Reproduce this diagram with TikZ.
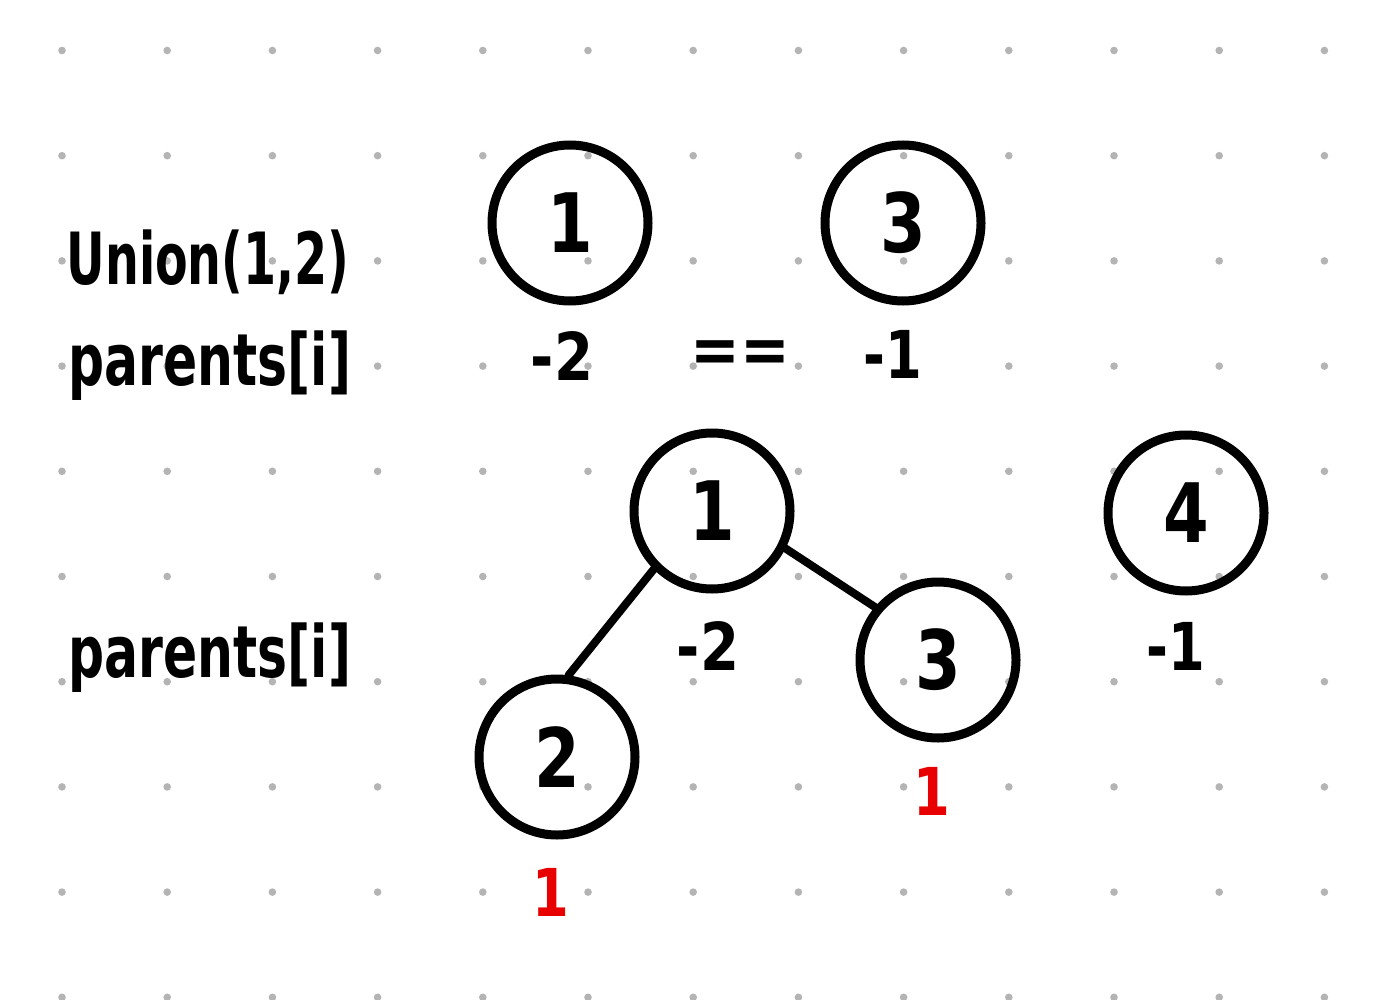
\documentclass[tikz,border=0pt]{standalone}
\usepackage{fontspec}
\newfontfamily\hwfont{DejaVu Sans}
\definecolor{dotgray}{RGB}{180,180,180}
\definecolor{hwred}{RGB}{232,0,0}
\begin{document}
\begin{tikzpicture}[x=1pt,y=-1pt,
  vertex/.style={circle,draw,line width=9pt,minimum size=156pt,inner sep=0pt,
    font=\hwfont\bfseries\fontsize{82}{90}\selectfont},
  lbl/.style={inner sep=0pt,anchor=base,font=\hwfont\bfseries\fontsize{66}{70}\selectfont},
  word/.style={inner sep=0pt,anchor=base,font=\hwfont\bfseries\fontsize{72}{80}\selectfont},
  redlbl/.style={lbl,text=hwred},
  link/.style={line width=8pt,line cap=round}]
\useasboundingbox (0,0) rectangle (1375,1000);
\fill[white] (0,0) rectangle (1375,1000);
% dot grid
\foreach \i in {0,...,12}{
  \foreach \j in {0,...,9}{
    \fill[dotgray] (62+105.2*\i,50.5+105.2*\j) circle (3.8);
  }
}
% top row
\node[word] (union) at (208,284) {\scalebox{0.66}[1]{Union(1,2)}};
\node[word] (par1) at (210,385) {\scalebox{0.7}[1]{parents[i]}};
\node[vertex] (t1) at (570,223) {\scalebox{0.8}[1]{1}};
\node[vertex] (t3) at (903,223) {\scalebox{0.8}[1]{3}};
\node[lbl] (m2a) at (562,380) {\scalebox{0.85}[1]{-2}};
\node[lbl] (eq) at (740,372) {\scalebox{0.9}[1]{==}};
\node[lbl] (m1a) at (893,378) {\scalebox{0.8}[1]{-1}};
% bottom tree
\node[word] (par2) at (210,677) {\scalebox{0.7}[1]{parents[i]}};
\node[vertex] (b1) at (712,511) {\scalebox{0.8}[1]{1}};
\node[vertex] (b2) at (557,757) {\scalebox{0.8}[1]{2}};
\node[vertex] (b3) at (938,660) {\scalebox{0.8}[1]{3}};
\node[vertex] (b4) at (1186,513) {\scalebox{0.8}[1]{4}};
\node[lbl] (m2b) at (708,670) {\scalebox{0.85}[1]{-2}};
\node[lbl] (m1b) at (1176,670) {\scalebox{0.8}[1]{-1}};
\node[redlbl] (r3) at (932,815) {\scalebox{0.8}[1]{1}};
\node[redlbl] (r2) at (551,916) {\scalebox{0.8}[1]{1}};
\draw[link] (b1.225) -- (b2.82);
\draw[link] (b1.333) -- (b3.140);
\end{tikzpicture}
\end{document}
